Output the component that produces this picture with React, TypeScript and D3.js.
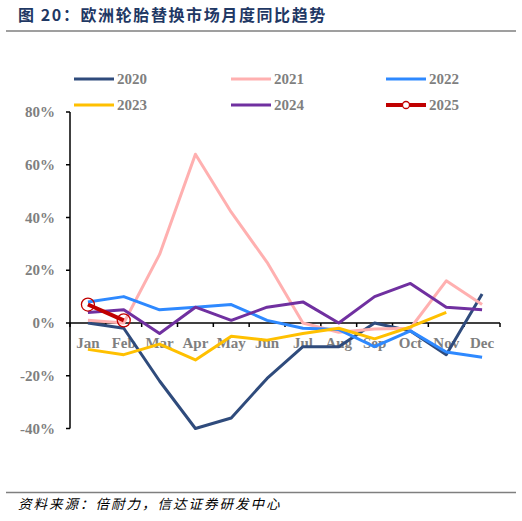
import * as d3 from "d3";

const months = ["Jan", "Feb", "Mar", "Apr", "May", "Jun", "Jul", "Aug", "Sep", "Oct", "Nov", "Dec"];
const yTicks = [80, 60, 40, 20, 0, -20, -40];

const y2020 = [0, -2, -22, -40, -36, -21, -9, -9, 0, -3, -12, 11];
const y2021 = [1, 0, 26, 64, 42, 23, 0, -3.5, -2.3, -2, 16, 7];
const y2022 = [8, 10, 5, 6, 7, 1, -2, -2.5, -9, -3, -11, -13];
const y2023 = [-10, -12, -8, -14, -5, -6.5, -4, -2, -6, -1.5, 4];
const y2024 = [4, 5, -4, 6, 1, 6, 8, 0, 10, 15, 6, 5];
const y2025 = [7, 1];

const series = [
  { name: "2020", values: y2020, color: "#2f4b7c", width: 3 },
  { name: "2021", values: y2021, color: "#ffb0b0", width: 3 },
  { name: "2022", values: y2022, color: "#2e89ff", width: 3 },
  { name: "2023", values: y2023, color: "#ffc000", width: 3 },
  { name: "2024", values: y2024, color: "#7030a0", width: 3 },
  { name: "2025", values: y2025, color: "#c00000", width: 4, marker: true },
];

const W = 522;
const H = 521;
const plot = { left: 70, right: 500, top: 112, bottom: 428.5 };
const serif = "'Liberation Serif', 'Times New Roman', serif";

export default function App() {
  const x = d3.scaleBand<string>().domain(months).range([plot.left, plot.right]);
  const y = d3.scaleLinear().domain([-40, 80]).range([plot.bottom, plot.top]);
  const cx = (i: number) => x(months[i])! + x.bandwidth() / 2;
  const line = d3
    .line<number>()
    .x((_, i) => cx(i))
    .y((d) => y(d));

  const legendCols = [74, 231, 386];
  const legendRows = [79, 105];

  return (
    <svg width={W} height={H} style={{ position: "absolute", left: 0, top: 0, background: "#fff" }}>
      {/* title */}
      <text x={18} y={21} fill="#1f3864" fontSize={16} fontWeight="bold" letterSpacing={1.6}
        fontFamily="'Noto Sans CJK SC', sans-serif">
        图 20：欧洲轮胎替换市场月度同比趋势
      </text>
      <line x1={6} x2={516} y1={31} y2={31} stroke="#7f7f7f" strokeWidth={1.5} />

      {/* legend */}
      {series.map((s, i) => {
        const lx = legendCols[i % 3];
        const ly = legendRows[Math.floor(i / 3)];
        return (
          <g key={s.name}>
            <line x1={lx} x2={lx + 40} y1={ly} y2={ly} stroke={s.color} strokeWidth={s.width} />
            {s.marker && <circle cx={lx + 20} cy={ly} r={3.5} fill="#fff" stroke={s.color} strokeWidth={1.3} />}
            <text x={lx + 43} y={ly + 5} fill="#7f7f7f" fontSize={15} fontWeight="bold" fontFamily={serif}>
              {s.name}
            </text>
          </g>
        );
      })}

      {/* y axis */}
      <line x1={plot.left} x2={plot.left} y1={y(80)} y2={y(-40)} stroke="#000" strokeWidth={1.5} />
      {yTicks.map((t) => (
        <g key={t}>
          <line x1={plot.left - 4} x2={plot.left} y1={y(t)} y2={y(t)} stroke="#000" strokeWidth={1.5} />
          <text x={55} y={y(t) + 5} textAnchor="end" fill="#7f7f7f" fontSize={15} fontWeight="bold"
            fontFamily={serif}>
            {t}%
          </text>
        </g>
      ))}

      {/* x axis at zero */}
      <line x1={plot.left} x2={plot.right} y1={y(0)} y2={y(0)} stroke="#000" strokeWidth={1.5} />
      {d3.range(months.length + 1).map((i) => {
        const tx = plot.left + i * x.bandwidth();
        return <line key={i} x1={tx} x2={tx} y1={y(0)} y2={y(0) + 4} stroke="#000" strokeWidth={1.5} />;
      })}
      {months.map((m, i) => (
        <text key={m} x={cx(i)} y={y(0) + 25} textAnchor="middle" fill="#7f7f7f" fontSize={15}
          fontWeight="bold" fontFamily={serif}>
          {m}
        </text>
      ))}

      {/* series */}
      {series.map((s) => (
        <g key={s.name}>
          <path d={line(s.values) ?? ""} fill="none" stroke={s.color} strokeWidth={s.width}
            strokeLinejoin="round" />
          {s.marker &&
            s.values.map((v, i) => (
              <circle key={i} cx={cx(i)} cy={y(v)} r={6.5} fill="none" stroke={s.color} strokeWidth={1.3} />
            ))}
        </g>
      ))}

      {/* footer */}
      <line x1={6} x2={516} y1={492.5} y2={492.5} stroke="#7f7f7f" strokeWidth={1.5} />
      <text x={18} y={509} fill="#000" fontSize={13.5} fontStyle="italic" letterSpacing={2}
        fontFamily="'Noto Sans CJK SC', sans-serif">
        资料来源：倍耐力，信达证券研发中心
      </text>
    </svg>
  );
}
